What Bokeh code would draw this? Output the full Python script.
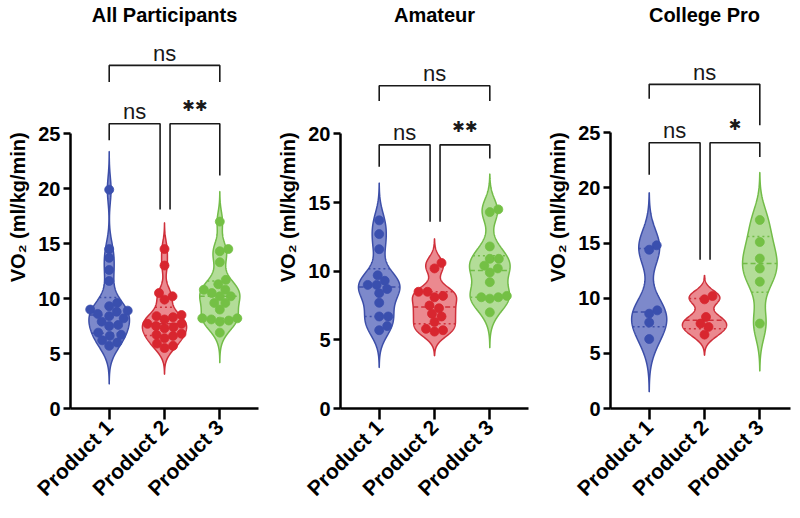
import numpy as np
from bokeh.plotting import figure
from bokeh.layouts import row
from bokeh.models import FixedTicker, Range1d
from bokeh.core.properties import value
from bokeh.embed import file_html
from bokeh.resources import INLINE

# ---------------- data ----------------
CATEGORIES = ["Product 1", "Product 2", "Product 3"]
PANEL_TITLES = ["All Participants", "Amateur", "College Pro"]
Y_LABEL = "VO\u2082  (ml/kg/min)"

ALL_P1 = [19.9, 14.5, 13.7, 12.6, 11.6, 9.6, 9.3, 9.0, 8.9, 8.8, 8.6, 8.4, 8.2, 7.9, 7.6, 7.5, 6.9, 6.7, 6.6, 6.2, 6.0, 5.7]
ALL_P2 = [14.5, 13.0, 10.5, 10.2, 9.9, 8.5, 8.4, 8.3, 8.1, 7.7, 7.7, 7.5, 7.4, 7.3, 6.8, 6.7, 6.6, 6.4, 5.9, 5.7, 5.5]
ALL_P3 = [17.0, 14.5, 14.3, 13.3, 11.7, 11.3, 10.8, 10.8, 10.5, 10.2, 10.2, 9.6, 9.6, 9.0, 8.2, 8.2, 8.1, 8.0, 7.9, 6.9]

AMATEUR_P1 = [13.7, 12.7, 11.6, 9.7, 9.3, 9.0, 9.0, 8.7, 8.4, 7.7, 6.7, 6.7, 6.0, 5.7]
AMATEUR_P2 = [10.6, 10.2, 8.5, 8.5, 8.2, 8.1, 7.5, 7.3, 6.9, 6.7, 6.3, 5.8, 5.7, 5.6]
AMATEUR_P3 = [14.5, 14.3, 11.8, 10.9, 10.9, 10.4, 10.2, 9.9, 9.2, 8.2, 8.1, 8.1, 8.0, 7.0]

COLLEGE_P1 = [14.8, 14.4, 8.9, 8.6, 7.8, 6.3]
COLLEGE_P2 = [10.2, 9.9, 8.3, 7.7, 7.4, 6.7]
COLLEGE_P3 = [17.1, 15.1, 13.6, 12.7, 11.5, 7.7]

PANEL_DATA = [
    [ALL_P1, ALL_P2, ALL_P3],
    [AMATEUR_P1, AMATEUR_P2, AMATEUR_P3],
    [COLLEGE_P1, COLLEGE_P2, COLLEGE_P3],
]
Y_TICKS = [[0, 5, 10, 15, 20, 25], [0, 5, 10, 15, 20], [0, 5, 10, 15, 20, 25]]

# significance labels: (overall 1 vs 3, 1 vs 2, 2 vs 3)
SIG_LABELS = [["ns", "ns", "**"], ["ns", "ns", "**"], ["ns", "ns", "*"]]

# ---------------- layout / style ----------------
FIG_W = [268, 268, 256]
FIG_H = 511
BORDER_L = [70, 72, 74]
BORDER_R = [10, 8, 2]
ZERO_PX = 410           # distance of y = 0 from the figure top (frame fills the top)
PX_PER_UNIT = [11.05, 13.8, 11.08]
TITLE_BASE_PX = 15      # title baseline distance from figure top
X_START = 0.3
PX_PER_CAT = 55.3

# bracket geometry (data units): top bracket y, its legs; lower brackets y, legs
BRACKETS = [
    dict(top=31.2, top_legs=(29.7, 29.7), low=25.9, b1_legs=(24.4, 18.1), b2_legs=(18.1, 21.2)),
    dict(top=23.5, top_legs=(22.4, 22.4), low=19.2, b1_legs=(17.6, 13.6), b2_legs=(13.6, 18.2)),
    dict(top=29.4, top_legs=(28.1, 25.7), low=24.1, b1_legs=(21.2, 13.5), b2_legs=(13.5, 22.8)),
]
B1_X = (1.0, 1.92)
B2_X = (2.1, 3.0)

DOT_COLORS = ["#3a4fae", "#d8262f", "#74c045"]
FILL_COLORS = ["#6674c2", "#e8747b", "#a6d786"]
LINE_COLORS = ["#3c4ea8", "#cf2f3a", "#72bc48"]
FONT = "Liberation Sans"


def kde(arr, grid, h):
    z = (grid[:, None] - arr[None, :]) / h
    return np.exp(-0.5 * z * z).sum(axis=1) / (len(arr) * h * np.sqrt(2 * np.pi))


def violin_profile(vals):
    arr = np.asarray(vals, dtype=float)
    n = len(arr)
    h = 0.6 * 1.06 * arr.std(ddof=1) * n ** -0.2
    grid = np.linspace(arr.min() - 3 * h, arr.max() + 3 * h, 300)
    return grid, kde(arr, grid, h)


def swarm(vals, ppx, ppy, d=8.6):
    arr = np.asarray(vals, dtype=float)
    order = np.argsort(arr)
    placed = []
    offs = np.zeros(len(arr))
    for i in order:
        yp = arr[i] * ppy
        chosen = None
        k = 0
        while chosen is None:
            cands = [0.0] if k == 0 else [k * 0.5, -k * 0.5]
            for off in cands:
                if all((off - px) ** 2 + (yp - py) ** 2 >= d * d for px, py in placed):
                    chosen = off
                    break
            k += 1
        placed.append((chosen, yp))
        offs[i] = chosen / ppx
    return offs


figs = []
for pi in range(3):
    frame_w = FIG_W[pi] - BORDER_L[pi] - BORDER_R[pi]
    x_end = X_START + frame_w / PX_PER_CAT
    ppx = PX_PER_CAT
    ppy = PX_PER_UNIT[pi]
    y_end = ZERO_PX / ppy

    p = figure(width=FIG_W[pi], height=FIG_H, output_backend="svg", toolbar_location=None,
               x_range=Range1d(X_START, x_end), y_range=Range1d(0, y_end),
               min_border_left=BORDER_L[pi], min_border_right=BORDER_R[pi],
               min_border_top=0, min_border_bottom=FIG_H - ZERO_PX)
    p.outline_line_color = None
    p.grid.visible = False
    p.background_fill_color = "white"
    p.border_fill_color = "white"

    # panel title
    p.text([2.0], [(ZERO_PX - TITLE_BASE_PX) / ppy], text=[PANEL_TITLES[pi]],
           text_align="center", text_baseline="alphabetic", text_font=value(FONT),
           text_font_size="20px", text_font_style="bold", text_color="black")

    # violins
    profiles = [violin_profile(v) for v in PANEL_DATA[pi]]
    peaks = [d.max() for _, d in profiles]
    pmax = max(peaks)
    for ci, vals in enumerate(PANEL_DATA[pi]):
        grid, dens = profiles[ci]
        scale = 0.40 * (peaks[ci] / pmax) ** 0.3 / peaks[ci]
        w = dens * scale
        cx = ci + 1
        xs = np.concatenate([cx + w, (cx - w)[::-1]])
        ys = np.concatenate([grid, grid[::-1]])
        p.patch(xs, ys, fill_color=FILL_COLORS[ci], fill_alpha=0.85,
                line_color=LINE_COLORS[ci], line_width=1.5)
        q1, med, q3 = np.percentile(vals, [25, 50, 75], method="weibull")
        for q, dash in ((q1, "2 3"), (med, "5 3"), (q3, "2 3")):
            hw = np.interp(q, grid, w)
            p.line([cx - hw, cx + hw], [q, q], line_color=LINE_COLORS[ci],
                   line_width=1.5, line_dash=dash)
        offs = swarm(vals, ppx, ppy)
        p.scatter(cx + offs, vals, size=9, fill_color=DOT_COLORS[ci],
                  line_color=DOT_COLORS[ci], line_width=0.8)

    # brackets
    b = BRACKETS[pi]
    bxs = [[1, 1, 3, 3], [B1_X[0], B1_X[0], B1_X[1], B1_X[1]], [B2_X[0], B2_X[0], B2_X[1], B2_X[1]]]
    bys = [[b["top_legs"][0], b["top"], b["top"], b["top_legs"][1]],
           [b["b1_legs"][0], b["low"], b["low"], b["b1_legs"][1]],
           [b["b2_legs"][0], b["low"], b["low"], b["b2_legs"][1]]]
    p.multi_line(bxs, bys, line_color="#1a1a1a", line_width=1.6)
    label_x = [2.0, (B1_X[0] + B1_X[1]) / 2, (B2_X[0] + B2_X[1]) / 2]
    label_base = [b["top"], b["low"], b["low"]]
    for lx, ly, lab in zip(label_x, label_base, SIG_LABELS[pi]):
        if lab == "ns":
            p.text([lx], [ly + 12 / ppy], text=[lab], text_align="center",
                   text_baseline="alphabetic", text_font=value(FONT),
                   text_font_size="22px", text_color="#1a1a1a")
        else:
            p.text([lx], [ly + 18 / ppy], text=["\u2731" * len(lab)], text_align="center",
                   text_baseline="middle", text_font=value("DejaVu Sans"),
                   text_font_size="15px", text_color="#1a1a1a")

    # axes
    yax = p.yaxis[0]
    yax.ticker = FixedTicker(ticks=Y_TICKS[pi])
    yax.bounds = (0, Y_TICKS[pi][-1])
    yax.axis_label = Y_LABEL
    yax.axis_label_text_font = FONT
    yax.axis_label_text_font_size = "20px"
    yax.axis_label_text_font_style = "bold"
    yax.axis_label_text_color = "black"
    yax.axis_label_standoff = 6
    yax.major_label_text_font = FONT
    yax.major_label_text_font_size = "20px"
    yax.major_label_text_font_style = "bold"
    yax.major_label_text_color = "black"
    yax.major_label_standoff = 3
    yax.major_tick_out = 7
    yax.major_tick_in = 0
    yax.minor_tick_out = 0
    yax.minor_tick_in = 0
    yax.axis_line_width = 2.5
    yax.major_tick_line_width = 2.5

    xax = p.xaxis[0]
    xax.ticker = FixedTicker(ticks=[1, 2, 3])
    xax.major_label_overrides = {i + 1: c for i, c in enumerate(CATEGORIES)}
    xax.major_label_orientation = np.pi / 4
    xax.major_label_text_font = FONT
    xax.major_label_text_font_size = "21px"
    xax.major_label_text_font_style = "bold"
    xax.major_label_text_color = "black"
    xax.major_label_standoff = 4
    xax.major_tick_out = 11
    xax.major_tick_in = 0
    xax.minor_tick_out = 0
    xax.minor_tick_in = 0
    xax.axis_line_width = 2.5
    xax.major_tick_line_width = 2.5

    figs.append(p)

layout = row(*figs)
open("out.html", "w").write(file_html(layout, INLINE))
